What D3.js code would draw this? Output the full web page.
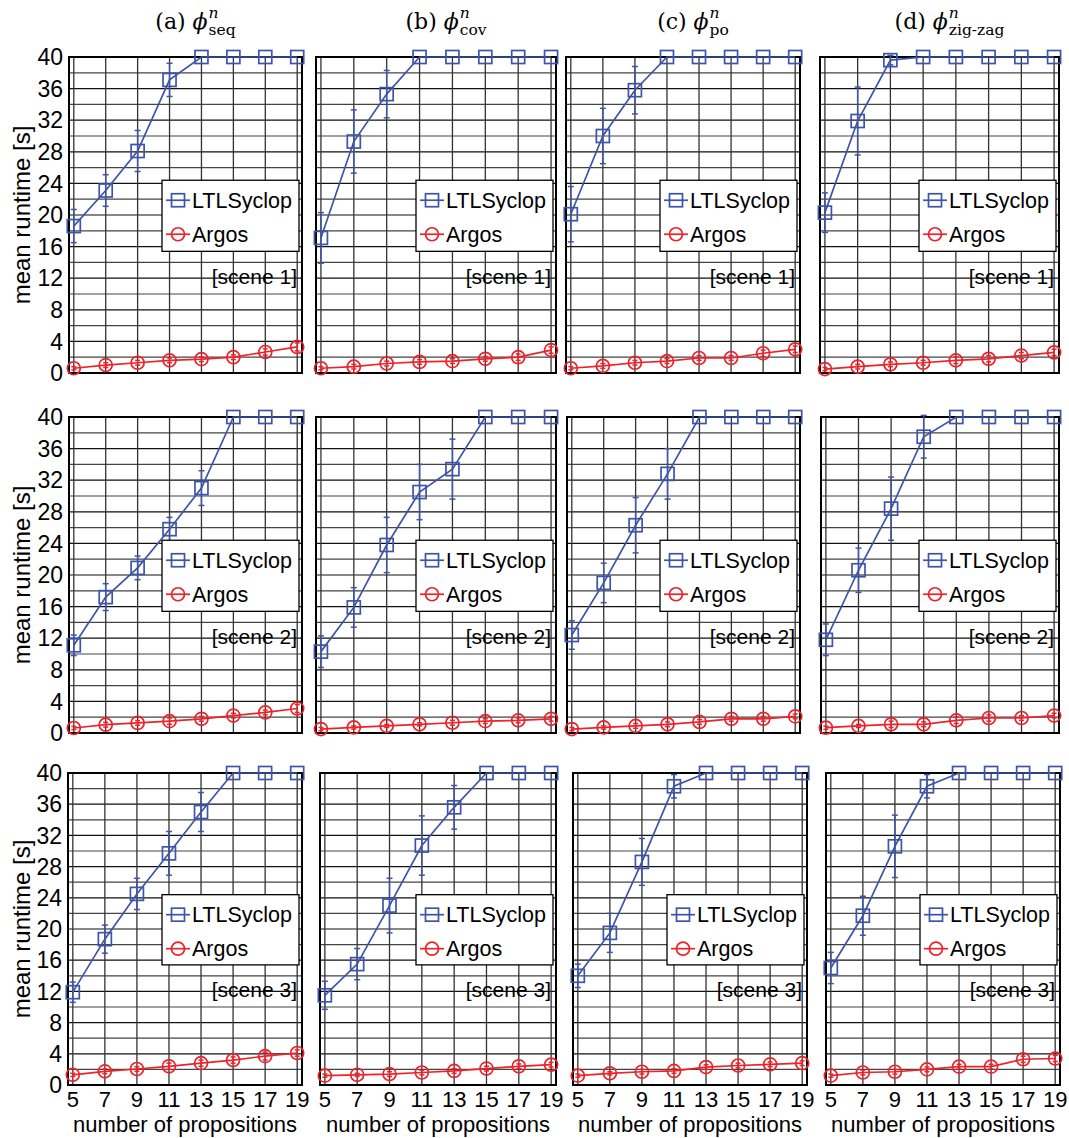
<!DOCTYPE html>
<html>
<head>
<meta charset="utf-8">
<script src="https://cdn.jsdelivr.net/npm/d3@7"></script>
<style>
  body { margin: 0; background: #fff; }
  text { font-family: "Liberation Sans", Arial, sans-serif; }
</style>
</head>
<body>
<div id="graphic"></div>
<script>
// x values (number of propositions)
var props = [5, 7, 9, 11, 13, 15, 17, 19];
var yTicks = [0, 4, 8, 12, 16, 20, 24, 28, 32, 36, 40];
var colLetters = ["(a)", "(b)", "(c)", "(d)"];
var colSubs = ["seq", "cov", "po", "zig-zag"];
var sceneNames = ["[scene 1]", "[scene 2]", "[scene 3]"];
var seriesNames = ["LTLSyclop", "Argos"];

// LTLSyclop mean runtime, [row][col]
var ltlMean = [
  [[18.6, 23.1, 28.1, 37.1, 40, 40, 40, 40],
   [17.1, 29.3, 35.3, 40, 40, 40, 40, 40],
   [20.1, 30.0, 35.8, 40, 40, 40, 40, 40],
   [20.3, 31.9, 39.6, 40, 40, 40, 40, 40]],
  [[11.1, 17.2, 20.9, 25.8, 31.0, 40, 40, 40],
   [10.3, 15.9, 23.8, 30.5, 33.4, 40, 40, 40],
   [12.4, 19.0, 26.3, 32.8, 40, 40, 40, 40],
   [11.8, 20.6, 28.4, 37.5, 40, 40, 40, 40]],
  [[11.9, 18.7, 24.5, 29.7, 35.0, 40, 40, 40],
   [11.5, 15.5, 23.0, 30.7, 35.6, 40, 40, 40],
   [14.0, 19.5, 28.6, 38.3, 40, 40, 40, 40],
   [15.0, 21.7, 30.6, 38.3, 40, 40, 40, 40]]
];
var ltlErr = [
  [[2.1, 2.0, 2.6, 2.1, 0, 0, 0, 0],
   [3.2, 4.0, 3.0, 0, 0, 0, 0, 0],
   [3.5, 3.5, 3.0, 0, 0, 0, 0, 0],
   [2.5, 4.3, 0.6, 0, 0, 0, 0, 0]],
  [[1.3, 1.7, 1.5, 1.5, 2.2, 0, 0, 0],
   [2.0, 2.5, 3.5, 3.5, 3.8, 0, 0, 0],
   [1.8, 2.5, 3.5, 3.2, 0, 0, 0, 0],
   [2.0, 2.8, 4.0, 2.7, 0, 0, 0, 0]],
  [[1.3, 1.8, 2.0, 2.8, 2.5, 0, 0, 0],
   [1.8, 2.0, 3.5, 3.8, 2.8, 0, 0, 0],
   [1.5, 2.5, 3.0, 1.5, 0, 0, 0, 0],
   [2.0, 2.5, 4.0, 1.5, 0, 0, 0, 0]]
];
// Argos mean runtime, [row][col]
var argMean = [
  [[0.6, 1.0, 1.3, 1.6, 1.75, 2.0, 2.66, 3.3],
   [0.6, 0.8, 1.2, 1.4, 1.5, 1.8, 2.0, 2.9],
   [0.6, 0.9, 1.3, 1.5, 1.9, 1.9, 2.5, 3.0],
   [0.5, 0.8, 1.1, 1.3, 1.6, 1.8, 2.2, 2.6]],
  [[0.63, 1.05, 1.27, 1.5, 1.8, 2.2, 2.6, 3.1],
   [0.5, 0.7, 0.9, 1.1, 1.3, 1.5, 1.6, 1.8],
   [0.5, 0.7, 0.9, 1.1, 1.4, 1.8, 1.8, 2.1],
   [0.67, 0.9, 1.1, 1.1, 1.6, 1.9, 1.9, 2.2]],
  [[1.3, 1.75, 2.05, 2.4, 2.8, 3.2, 3.7, 4.1],
   [1.2, 1.3, 1.4, 1.6, 1.8, 2.1, 2.4, 2.6],
   [1.2, 1.5, 1.7, 1.8, 2.3, 2.5, 2.65, 2.8],
   [1.2, 1.6, 1.7, 2.0, 2.35, 2.35, 3.3, 3.4]]
];
var argErr = [
  [[0.2, 0.3, 0.3, 0.3, 0.3, 0.3, 0.4, 0.5],
   [0.2, 0.3, 0.3, 0.3, 0.3, 0.3, 0.4, 0.4],
   [0.2, 0.3, 0.3, 0.3, 0.3, 0.3, 0.4, 0.4],
   [0.2, 0.3, 0.3, 0.3, 0.4, 0.4, 0.4, 0.4]],
  [[0.2, 0.3, 0.3, 0.4, 0.3, 0.3, 0.3, 0.5],
   [0.2, 0.2, 0.2, 0.2, 0.3, 0.3, 0.3, 0.3],
   [0.2, 0.2, 0.3, 0.3, 0.3, 0.3, 0.3, 0.3],
   [0.2, 0.2, 0.4, 0.3, 0.4, 0.4, 0.3, 0.3]],
  [[0.2, 0.3, 0.3, 0.4, 0.4, 0.4, 0.5, 0.4],
   [0.2, 0.2, 0.3, 0.3, 0.3, 0.3, 0.3, 0.3],
   [0.2, 0.2, 0.3, 0.3, 0.3, 0.3, 0.3, 0.3],
   [0.2, 0.3, 0.3, 0.3, 0.3, 0.3, 0.4, 0.4]]
];

// panel layout (pixels)
var colLeft = [[69, 316, 566, 820], [69, 316, 567, 821], [68, 320, 573, 826]];
var colRight = [[302, 556, 800, 1059], [302, 556, 800, 1059], [302, 556, 807, 1060]];
var rowTop = [57, 417, 773];
var rowBottom = [373, 733, 1085];

var W = 1069, H = 1138;
var blue = "#3d55a8", red = "#ee2229";
var serif = "'DejaVu Serif', 'Liberation Serif', serif";

var svg = d3.select("#graphic").append("svg")
    .attr("width", W).attr("height", H);

function drawPanel(r, c) {
    var x = d3.scaleLinear().domain([4.7, 19.3]).range([colLeft[r][c], colRight[r][c]]);
    var y = d3.scaleLinear().domain([0, 40]).range([rowBottom[r], rowTop[r]]);
    var g = svg.append("g");

    // grid
    g.selectAll("line.hg").data(d3.range(0, 41, 2)).enter().append("line")
        .attr("x1", x.range()[0]).attr("x2", x.range()[1])
        .attr("y1", function(d){ return y(d); }).attr("y2", function(d){ return y(d); })
        .attr("stroke", function(d){ return d % 4 == 0 ? "#111" : "#444"; })
        .attr("stroke-width", 1.2);
    g.selectAll("line.vg").data(props).enter().append("line")
        .attr("x1", function(d){ return x(d); }).attr("x2", function(d){ return x(d); })
        .attr("y1", y(0)).attr("y2", y(40))
        .attr("stroke", "#333").attr("stroke-width", 1.3);

    // border
    g.append("rect")
        .attr("x", x.range()[0]).attr("y", y(40))
        .attr("width", x.range()[1] - x.range()[0]).attr("height", y(0) - y(40))
        .attr("fill", "none").attr("stroke", "#000").attr("stroke-width", 2);

    if (c == 0) {
        g.append("g").selectAll("text").data(yTicks).enter().append("text")
            .attr("x", x.range()[0] - 6).attr("y", function(d){ return y(d); })
            .attr("dy", "0.36em").attr("text-anchor", "end")
            .attr("font-size", 23).text(function(d){ return d; });
        g.append("text")
            .attr("transform", "translate(30," + ((y(0) + y(40)) / 2) + ") rotate(-90)")
            .attr("text-anchor", "middle").attr("font-size", 24)
            .text("mean runtime [s]");
    }
    if (r == 2) {
        g.selectAll("text.xt").data(props).enter().append("text")
            .attr("x", function(d){ return x(d); }).attr("y", y(0) + 22)
            .attr("text-anchor", "middle").attr("font-size", 22)
            .text(function(d){ return d; });
        g.append("text")
            .attr("x", (x.range()[0] + x.range()[1]) / 2).attr("y", y(0) + 47)
            .attr("text-anchor", "middle").attr("font-size", 22)
            .text("number of propositions");
    }

    // scene label
    g.append("text")
        .attr("x", x.range()[1] - 5).attr("y", y(11.3))
        .attr("text-anchor", "end").attr("font-size", 21)
        .text(sceneNames[r]);

    var line = d3.line()
        .x(function(d){ return x(d[0]); })
        .y(function(d){ return y(d[1]); });

    function series(means, errs, color, shape, cap) {
        var pts = props.map(function(p, i){ return [p, means[i], errs[i]]; });
        g.append("path").datum(pts).attr("d", line)
            .attr("fill", "none").attr("stroke", color).attr("stroke-width", 1.7);
        var eb = g.append("g").attr("stroke", color).attr("stroke-width", 1.5);
        pts.filter(function(d){ return d[2] > 0; }).forEach(function(d){
            eb.append("line").attr("x1", x(d[0])).attr("x2", x(d[0]))
                .attr("y1", y(d[1] - d[2])).attr("y2", y(d[1] + d[2]));
            [d[1] - d[2], d[1] + d[2]].forEach(function(v){
                eb.append("line").attr("x1", x(d[0]) - cap).attr("x2", x(d[0]) + cap)
                    .attr("y1", y(v)).attr("y2", y(v));
            });
        });
        pts.forEach(function(d){ marker(g, x(d[0]), y(d[1]), color, shape); });
    }

    series(ltlMean[r][c], ltlErr[r][c], blue, "square", 3);
    series(argMean[r][c], argErr[r][c], red, "circle", 2.5);

    // legend
    var lx1 = x.range()[1] - 3, lx0 = lx1 - 137;
    var ly0 = y(24.4), ly1 = y(15.4);
    var lg = g.append("g");
    lg.append("rect").attr("x", lx0).attr("y", ly0)
        .attr("width", lx1 - lx0).attr("height", ly1 - ly0)
        .attr("fill", "#fff").attr("stroke", "#000").attr("stroke-width", 1.3);
    [[blue, "square"], [red, "circle"]].forEach(function(s, i){
        var cy = ly0 + (i == 0 ? 20 : 54);
        lg.append("line").attr("x1", lx0 + 4).attr("x2", lx0 + 28)
            .attr("y1", cy).attr("y2", cy)
            .attr("stroke", s[0]).attr("stroke-width", 1.7);
        marker(lg, lx0 + 16, cy, s[0], s[1]);
        lg.append("text").attr("x", lx0 + 30).attr("y", cy).attr("dy", "0.36em")
            .attr("font-size", 21.5).text(seriesNames[i]);
    });
}

function marker(g, cx, cy, color, shape) {
    if (shape == "square") {
        g.append("rect").attr("x", cx - 6.5).attr("y", cy - 6.5)
            .attr("width", 13).attr("height", 13)
            .attr("fill", "none").attr("stroke", color).attr("stroke-width", 1.7);
    } else {
        g.append("circle").attr("cx", cx).attr("cy", cy).attr("r", 6.5)
            .attr("fill", "none").attr("stroke", color).attr("stroke-width", 1.7);
    }
}

for (var r = 0; r < 3; r++) {
    for (var c = 0; c < 4; c++) drawPanel(r, c);
}

// column titles
colLetters.forEach(function(lab, c){
    var cx = (colLeft[0][c] + colRight[0][c]) / 2 + 10;
    var t = svg.append("g");
    var main = t.append("text").attr("y", 29).attr("font-size", 22)
        .style("font-family", serif);
    main.append("tspan").text(lab + " ");
    main.append("tspan").attr("font-style", "italic").text("\u03D5");
    var sup = t.append("text").attr("y", 18).attr("font-size", 15.5).attr("font-style", "italic")
        .style("font-family", serif).text("n");
    var sub = t.append("text").attr("y", 35).attr("font-size", 15.5)
        .style("font-family", serif).text(colSubs[c]);
    var w = main.node().getComputedTextLength();
    var sw = Math.max(sup.node().getComputedTextLength(), sub.node().getComputedTextLength());
    var x0 = cx - (w + sw + 1) / 2;
    main.attr("x", x0);
    sup.attr("x", x0 + w + 1);
    sub.attr("x", x0 + w + 1);
});
</script>
</body>
</html>
